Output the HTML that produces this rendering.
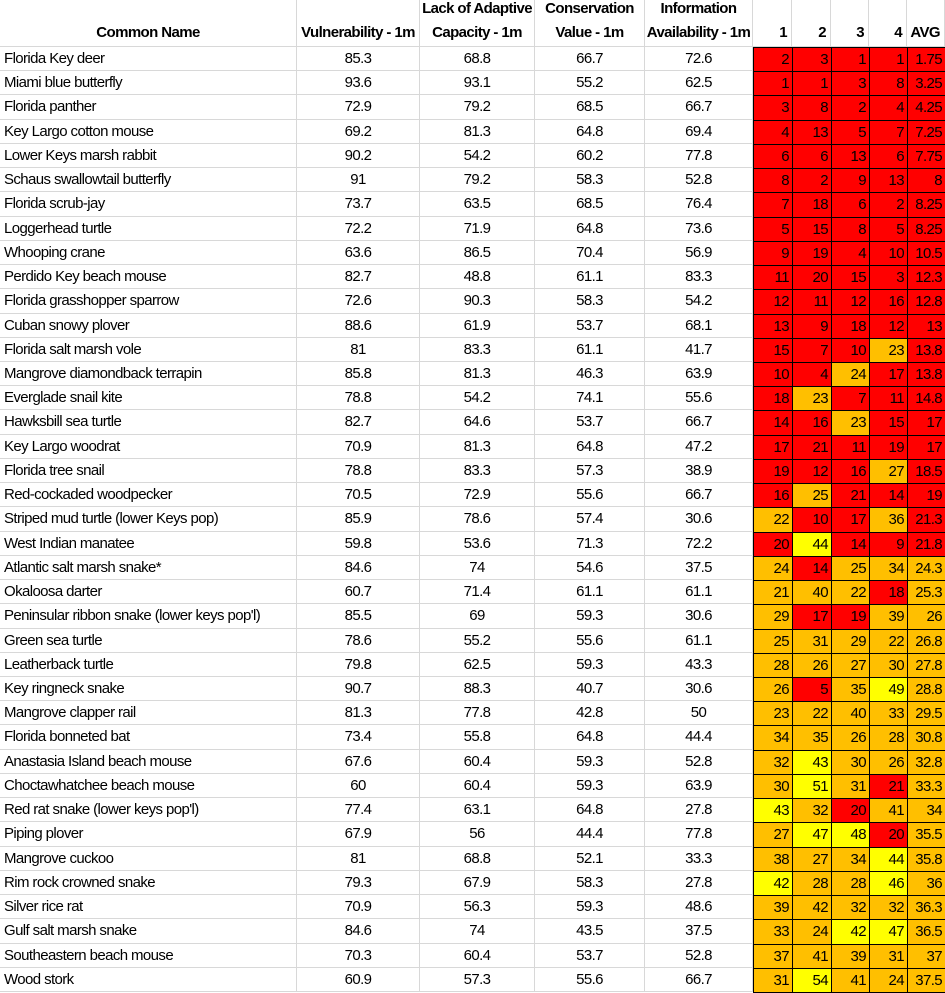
<!DOCTYPE html>
<html><head><meta charset="utf-8">
<style>
body{margin:0;background:#fff;width:945px;height:992px;overflow:hidden;font-family:"Liberation Sans",sans-serif;}
#t{position:absolute;left:0;top:0;width:945px;height:992px;}
.c{position:absolute;box-sizing:border-box;font-size:15px;letter-spacing:-0.6px;color:#000;white-space:nowrap;line-height:24px;}
.g{border-right:1px solid #d8d8d8;border-bottom:1px solid #d8d8d8;}
.k{border:1px solid #000;text-align:right;padding-right:3px;}
.h{font-weight:bold;font-size:15px;line-height:24px;display:flex;align-items:flex-end;justify-content:center;text-align:center;padding-bottom:1px;}
</style></head><body>
<div id="t"></div>
<script>
const names=["Florida Key deer","Miami blue butterfly","Florida panther","Key Largo cotton mouse","Lower Keys marsh rabbit","Schaus swallowtail butterfly","Florida scrub-jay","Loggerhead turtle","Whooping crane","Perdido Key beach mouse","Florida grasshopper sparrow","Cuban snowy plover","Florida salt marsh vole","Mangrove diamondback terrapin","Everglade snail kite","Hawksbill sea turtle","Key Largo woodrat","Florida tree snail","Red-cockaded woodpecker","Striped mud turtle (lower Keys pop)","West Indian manatee","Atlantic salt marsh snake*","Okaloosa darter","Peninsular ribbon snake (lower keys pop'l)","Green sea turtle","Leatherback turtle","Key ringneck snake","Mangrove clapper rail","Florida bonneted bat","Anastasia Island beach mouse","Choctawhatchee beach mouse","Red rat snake (lower keys pop'l)","Piping plover","Mangrove cuckoo","Rim rock crowned snake","Silver rice rat","Gulf salt marsh snake","Southeastern beach mouse","Wood stork"];
const vuln=["85.3","93.6","72.9","69.2","90.2","91","73.7","72.2","63.6","82.7","72.6","88.6","81","85.8","78.8","82.7","70.9","78.8","70.5","85.9","59.8","84.6","60.7","85.5","78.6","79.8","90.7","81.3","73.4","67.6","60","77.4","67.9","81","79.3","70.9","84.6","70.3","60.9"];
const lack=["68.8","93.1","79.2","81.3","54.2","79.2","63.5","71.9","86.5","48.8","90.3","61.9","83.3","81.3","54.2","64.6","81.3","83.3","72.9","78.6","53.6","74","71.4","69","55.2","62.5","88.3","77.8","55.8","60.4","60.4","63.1","56","68.8","67.9","56.3","74","60.4","57.3"];
const cons=["66.7","55.2","68.5","64.8","60.2","58.3","68.5","64.8","70.4","61.1","58.3","53.7","61.1","46.3","74.1","53.7","64.8","57.3","55.6","57.4","71.3","54.6","61.1","59.3","55.6","59.3","40.7","42.8","64.8","59.3","59.3","64.8","44.4","52.1","58.3","59.3","43.5","53.7","55.6"];
const info=["72.6","62.5","66.7","69.4","77.8","52.8","76.4","73.6","56.9","83.3","54.2","68.1","41.7","63.9","55.6","66.7","47.2","38.9","66.7","30.6","72.2","37.5","61.1","30.6","61.1","43.3","30.6","50","44.4","52.8","63.9","27.8","77.8","33.3","27.8","48.6","37.5","52.8","66.7"];
const r1=[2,1,3,4,6,8,7,5,9,11,12,13,15,10,18,14,17,19,16,22,20,24,21,29,25,28,26,23,34,32,30,43,27,38,42,39,33,37,31];
const r2=[3,1,8,13,6,2,18,15,19,20,11,9,7,4,23,16,21,12,25,10,44,14,40,17,31,26,5,22,35,43,51,32,47,27,28,42,24,41,54];
const r3=[1,3,2,5,13,9,6,8,4,15,12,18,10,24,7,23,11,16,21,17,14,25,22,19,29,27,35,40,26,30,31,20,48,34,28,32,42,39,41];
const r4=[1,8,4,7,6,13,2,5,10,3,16,12,23,17,11,15,19,27,14,36,9,34,18,39,22,30,49,33,28,26,21,41,20,44,46,32,47,31,24];
const avg=["1.75","3.25","4.25","7.25","7.75","8","8.25","8.25","10.5","12.3","12.8","13","13.8","13.8","14.8","17","17","18.5","19","21.3","21.8","24.3","25.3","26","26.8","27.8","28.8","29.5","30.8","32.8","33.3","34","35.5","35.8","36","36.3","36.5","37","37.5"];
const colorCodes=["rrrrr","rrrrr","rrrrr","rrrrr","rrrrr","rrrrr","rrrrr","rrrrr","rrrrr","rrrrr","rrrrr","rrrrr","rrror","rrorr","rorrr","rrorr","rrrrr","rrror","rorrr","orror","ryrrr","orooo","oooro","orroo","ooooo","ooooo","oroyo","ooooo","ooooo","oyooo","oyoro","yoroo","oyyro","oooyo","yooyo","ooooo","ooyyo","ooooo","oyooo"];
const colX=[0,297,420,535,645,753,792,831,869,907,945];
const top0=47, rh=(992-47)/39;
const pal={r:"#ff0000",o:"#ffbf00",y:"#ffff00"};
const T=document.getElementById('t');
function cell(x,y,w,h,cls,txt){const d=document.createElement('div');d.className='c '+cls;d.style.left=x+'px';d.style.top=y+'px';d.style.width=w+'px';d.style.height=h+'px';d.innerHTML=txt;T.appendChild(d);return d;}
const heads=["Common Name","Vulnerability - 1m","Lack of Adaptive<br>Capacity - 1m","Conservation<br>Value - 1m","Information<br>Availability - 1m","1","2","3","4","AVG"];
const hn=["common-name-header","vulnerability-header","adaptive-capacity-header","conservation-value-header","information-availability-header","rank-1-header","rank-2-header","rank-3-header","rank-4-header","avg-header"];
for(let i=0;i<10;i++){const d=cell(colX[i],0,colX[i+1]-colX[i],top0,'g h',heads[i]);


if(i>=5){d.style.justifyContent='flex-end';d.style.paddingRight='4px';}}
for(let r=0;r<names.length;r++){
 const y=Math.round(top0+r*rh), h=Math.round(top0+(r+1)*rh)-y;
 const vals=[names[r],vuln[r],lack[r],cons[r],info[r]];
 for(let i=0;i<5;i++){const d=cell(colX[i],y,colX[i+1]-colX[i],h,'g',vals[i]);
  
  
  d.style.textAlign=i==0?'left':'center';if(i==0)d.style.paddingLeft='4px';}
 const rk=[r1[r],r2[r],r3[r],r4[r],avg[r]];
 for(let j=0;j<5;j++){const code=(colorCodes[r][j]||'o');const d=cell(colX[5+j],y,colX[6+j]-colX[5+j]+1,h+1,'k',rk[j]);
  
  
  d.style.background=pal[code]||pal.o;}
}
</script>
</body></html>
